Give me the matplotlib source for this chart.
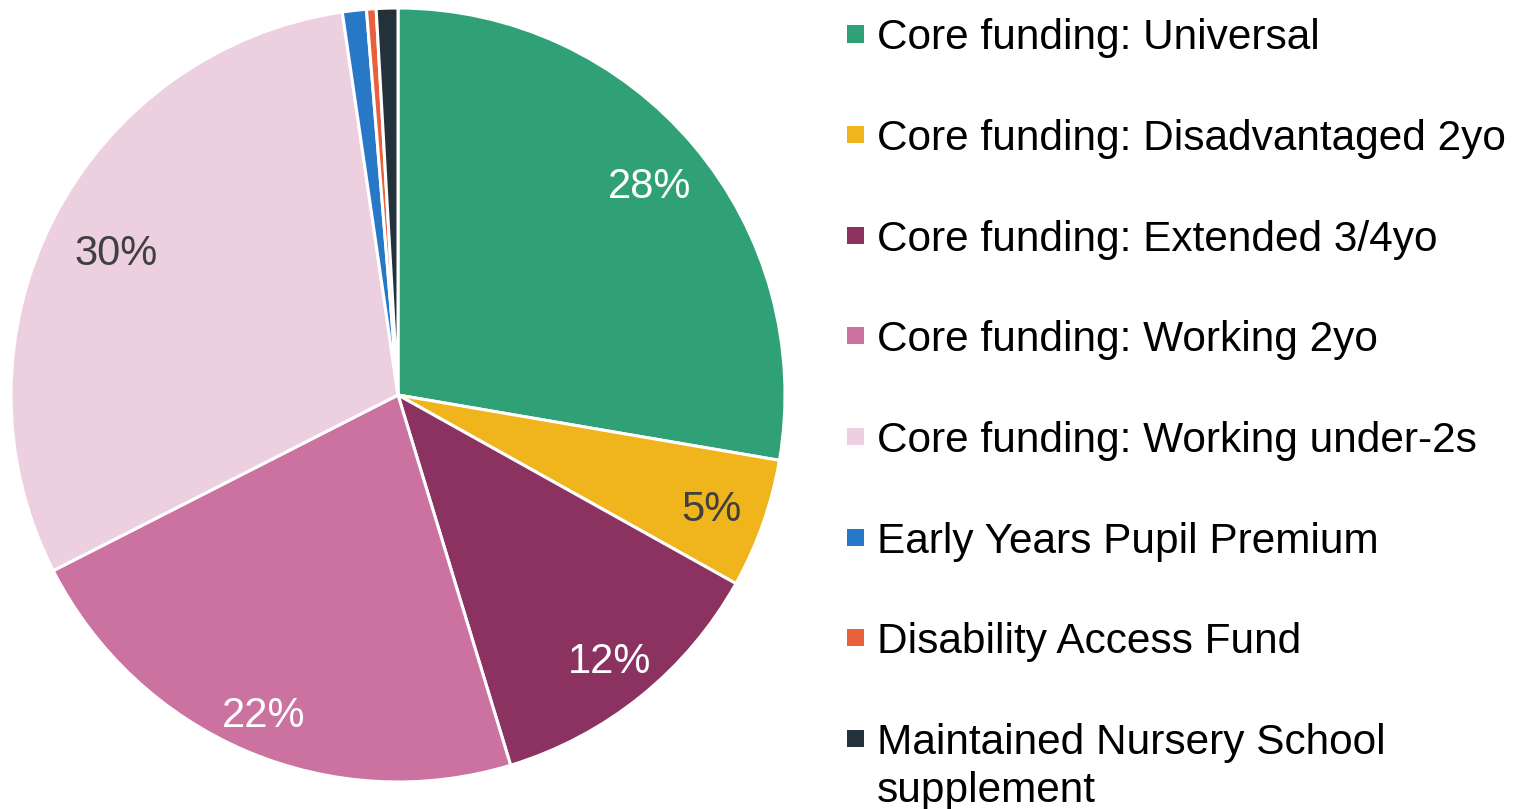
import matplotlib
matplotlib.use("Agg")
import matplotlib.pyplot as plt
from matplotlib.patches import Rectangle
import numpy as np

categories = [
    "Core funding: Universal",
    "Core funding: Disadvantaged 2yo",
    "Core funding: Extended 3/4yo",
    "Core funding: Working 2yo",
    "Core funding: Working under-2s",
    "Early Years Pupil Premium",
    "Disability Access Fund",
    "Maintained Nursery School\nsupplement",
]
values = [27.7, 5.4, 12.2, 22.2, 30.2, 1.0, 0.4, 0.9]
pct_labels = ["28%", "5%", "12%", "22%", "30%", "", "", ""]
colors = ["#30A076", "#F0B41C", "#8C3260", "#CB72A0", "#EDD0E0",
          "#2878C8", "#E8603C", "#22313A"]
label_colors = ["white", "#404040", "white", "white", "#404040",
                "white", "white", "white"]
# layout: radial position of each percent label (fraction of radius)
label_dist = [0.85, 0.86, 0.87, 0.89, 0.82, 0.86, 0.86, 0.86]

plt.rcParams['font.family'] = ['Liberation Sans', 'DejaVu Sans']

W, H = 1521, 809
fig = plt.figure(figsize=(W / 100, H / 100), dpi=100)

cx, cy, R = 398, 395, 387
ax = fig.add_axes([(cx - R) / W, (H - cy - R) / H, 2 * R / W, 2 * R / H])
wedges, _ = ax.pie(values, colors=colors, startangle=90, counterclock=False,
                   wedgeprops=dict(edgecolor="white", linewidth=2.2))
ax.set_aspect("equal")
ax.set_xlim(-1, 1)
ax.set_ylim(-1, 1)
ax.axis("off")

# percent labels
total = sum(values)
angle = 90.0
for v, lab, lc, d in zip(values, pct_labels, label_colors, label_dist):
    sweep = v / total * 360
    mid = np.deg2rad(angle - sweep / 2)
    angle -= sweep
    if lab:
        ax.text(d * np.cos(mid), d * np.sin(mid), lab, color=lc,
                fontsize=30, ha="center", va="center_baseline")

# legend (manual)
row_y0 = 34
row_step = 100.6
line_step = 48
sq = 17
for i, (cat, col) in enumerate(zip(categories, colors)):
    yc = row_y0 + i * row_step
    fig.patches.append(Rectangle((847 / W, (H - yc - sq / 2) / H), sq / W, sq / H,
                                 transform=fig.transFigure, facecolor=col,
                                 edgecolor="none"))
    for k, line in enumerate(cat.split("\n")):
        fig.text(877 / W, (H - (yc + k * line_step)) / H, line, fontsize=30.5,
                 ha="left", va="center_baseline", color="black")

fig.savefig("out.png", dpi=100)
